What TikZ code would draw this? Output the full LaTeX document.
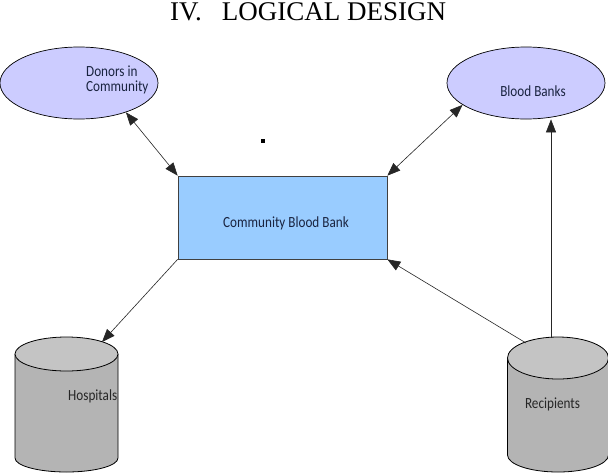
\documentclass[tikz,border=0pt]{standalone}
\usepackage{fontspec}
\setmainfont{Liberation Serif}
\newfontfamily\lbl[FakeStretch=0.85]{Carlito}
\usetikzlibrary{arrows.meta,shapes.geometric}
\definecolor{lav}{HTML}{CCCCFF}
\definecolor{cbbblue}{HTML}{99CCFF}
\definecolor{cylbody}{HTML}{B4B4B4}
\definecolor{cyltop}{HTML}{C4C4C4}
\definecolor{navy}{HTML}{1A2440}
\begin{document}
\begin{tikzpicture}[x=1pt,y=-1pt,
  oval/.style={ellipse, draw=black, line width=0.7pt, fill=lav, minimum width=158pt, minimum height=72pt, inner sep=0pt},
  lbltxt/.style={font=\lbl\fontsize{15.5}{15}\selectfont, inner sep=0pt, text=navy},
  cyltxt/.style={font=\lbl\fontsize{15.5}{15}\selectfont, inner sep=0pt, text=black!85},
  conn/.style={line width=0.6pt, draw=black!85},
  onetip/.style={-{Triangle[length=13pt,width=10pt]}},
  twotips/.style={{Triangle[length=13pt,width=10pt]}-{Triangle[length=13pt,width=10pt]}},
  cylline/.style={draw=black, line width=0.8pt}
]
\useasboundingbox (0,0) rectangle (608,472);
\fill[white] (0,0) rectangle (608,472);

% title
\node[anchor=base west, inner sep=0pt, font=\fontsize{27}{27}\selectfont] (title) at (170,20) {IV.\hspace{20pt}LOGICAL DESIGN};

% ellipses
\node[oval] (donors) at (79,83) {};
\node[lbltxt, anchor=base west] (donorstxt) at (86,76) {\begin{tabular}[t]{@{}l@{}}Donors in\\Community\end{tabular}};
\node[oval] (banks) at (526,83) {};
\node[lbltxt, anchor=base] (bankstxt) at (533,96) {Blood Banks};

% dot
\node[fill=black, minimum size=4pt, inner sep=0pt] (dot) at (263,141) {};

% central box
\node[draw=black!75, fill=cbbblue, line width=0.7pt, minimum width=209pt, minimum height=83pt, inner sep=0pt] (cbb) at (282.5,217.5) {};
\node[lbltxt, anchor=base] (cbbtxt) at (286,227) {Community Blood Bank};

% hospitals cylinder
\node[minimum width=103pt, minimum height=135pt, inner sep=0pt] (hosp) at (66.5,404.5) {};
\filldraw[fill=cylbody, cylline] (15,354) -- (15,458) arc[start angle=180, end angle=0, x radius=51.5, y radius=14] -- (118,354);
\filldraw[fill=cyltop, cylline] (66.5,354) ellipse[x radius=51.5, y radius=17];
\node[cyltxt, anchor=base west] (hosptxt) at (68,400.5) {Hospitals};
\coordinate (hosptop) at (102,342);

% recipients cylinder
\node[minimum width=101pt, minimum height=135pt, inner sep=0pt] (recip) at (558,404.5) {};
\filldraw[fill=cylbody, cylline] (507.5,358) -- (507.5,455) arc[start angle=180, end angle=0, x radius=50.5, y radius=17] -- (608.5,358);
\filldraw[fill=cyltop, cylline] (558,358) ellipse[x radius=50.5, y radius=21];
\node[cyltxt, anchor=base] (reciptxt) at (552.5,408) {Recipients};
\coordinate (reciptop) at (526,343);
\coordinate (recipv) at (551,337.5);

% connectors
\draw[conn, twotips] (donors.-32) -- (cbb.north west);
\draw[conn, twotips] (banks.199) -- (cbb.north east);
\draw[conn, onetip] (cbb.south west) -- (hosptop);
\draw[conn, onetip] (reciptop) -- (cbb.south east);
\draw[conn, onetip] (recipv) -- (recipv |- banks.south);
\end{tikzpicture}
\end{document}
